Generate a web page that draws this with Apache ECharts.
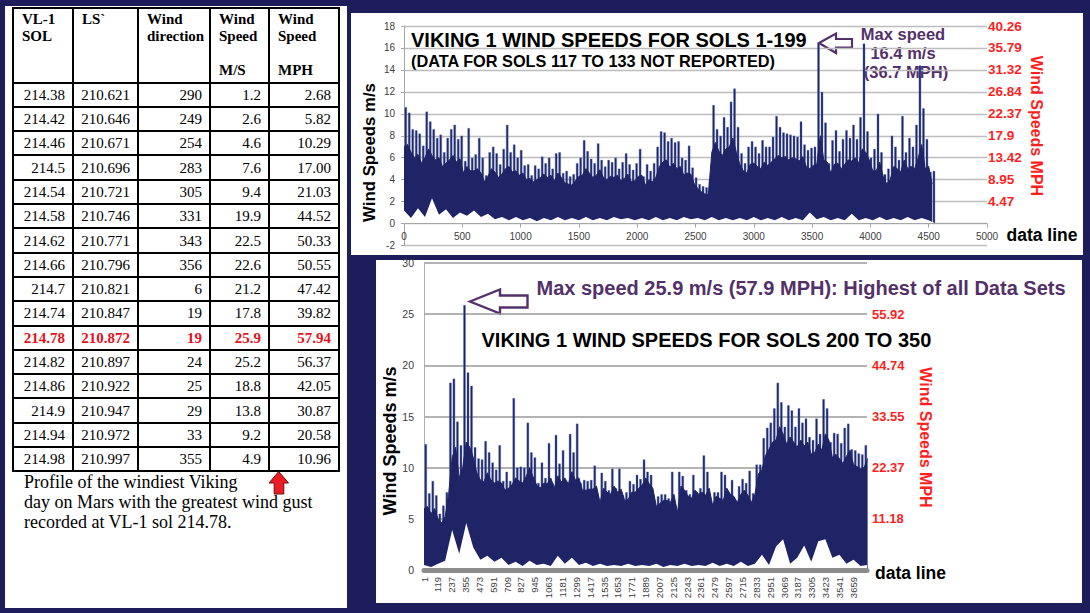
<!DOCTYPE html>
<html>
<head>
<meta charset="utf-8">
<script src="https://cdn.jsdelivr.net/npm/echarts@6/dist/echarts.min.js"></script>
<style>
  body { margin:0; width:1090px; height:613px; overflow:hidden; position:relative; background:#1c1d5a; }
  .panel { position:absolute; background:#fff; }
  #windTable { position:absolute; left:12px; top:7px; width:328px; border-collapse:collapse; table-layout:fixed;
               font-family:"Liberation Serif","Times New Roman",serif; font-size:15px; color:#000; }
  #windTable td { border:2.5px solid #000; padding:0 7px 0 0; height:22.3px; text-align:right; line-height:18px; }
  #windTable tr.head td { height:70.6px; vertical-align:top; text-align:left; font-weight:bold; padding:2px 0 0 8px; line-height:17px; }
  #windTable tr.max td { color:#e8101a; font-weight:bold; }
  #caption { position:absolute; left:24px; top:472px; font-family:"Liberation Serif","Times New Roman",serif;
             font-size:18px; line-height:20px; color:#000; }
  #chart { position:absolute; left:0; top:0; width:1090px; height:613px; }
</style>
</head>
<body>
<div class="panel" style="left:5px;top:6px;width:342px;height:602px"></div>
<div class="panel" style="left:351px;top:13px;width:732px;height:242px"></div>
<div class="panel" style="left:376px;top:260px;width:706px;height:343px"></div>
<table id="windTable"></table>
<div id="caption">Profile of the windiest Viking<br>day on Mars with the greatest wind gust<br>recorded at VL-1 sol 214.78.</div>
<div id="chart"></div>
<script>
// table: windiest day at VL-1
var tableSol = ['214.38','214.42','214.46','214.5','214.54','214.58','214.62','214.66','214.7','214.74','214.78','214.82','214.86','214.9','214.94','214.98'];
var tableLs  = ['210.621','210.646','210.671','210.696','210.721','210.746','210.771','210.796','210.821','210.847','210.872','210.897','210.922','210.947','210.972','210.997'];
var tableDir = ['290','249','254','283','305','331','343','356','6','19','19','24','25','29','33','355'];
var tableMs  = ['1.2','2.6','4.6','7.6','9.4','19.9','22.5','22.6','21.2','17.8','25.9','25.2','18.8','13.8','9.2','4.9'];
var tableMph = ['2.68','5.82','10.29','17.00','21.03','44.52','50.33','50.55','47.42','39.82','57.94','56.37','42.05','30.87','20.58','10.96'];
var maxRow = 10;

// sols 1-199: body level (every 30 data lines) and gust spikes in between
var topValley = [
  7.0, 7.2, 6.5, 6.0, 6.3, 5.5, 6.0, 6.8, 6.2, 5.8,
  6.0, 5.2, 5.5, 5.8, 6.2, 5.6, 5.9, 4.6, 5.2, 4.8,
  4.8, 5.0, 4.6, 3.8, 4.3, 5.0, 4.7, 4.2, 4.5, 5.0,
  5.2, 4.7, 4.8, 4.4, 4.6, 4.0, 4.1, 3.8, 4.0, 4.2,
  4.5, 4.2, 4.4, 3.9, 4.6, 4.2, 3.7, 3.6, 3.5, 3.9,
  4.3, 4.4, 5.0, 4.6, 4.2, 4.4, 4.9, 4.2, 4.0, 4.3,
  4.2, 4.4, 3.9, 4.1, 4.5, 3.8, 3.9, 4.3, 4.4, 3.5,
  4.0, 3.8, 4.2, 5.2, 5.6, 5.8, 5.1, 5.5, 5.0, 5.2,
  4.4, 4.6, 4.5, 3.6, 3.2, 2.9, 2.7, 2.6, 6.5, 7.4,
  6.6, 6.2, 6.8, 7.0, 7.8, 6.5, 5.4, 4.8, 4.6, 5.4,
  5.5, 5.2, 5.0, 5.6, 5.3, 5.6, 5.9, 6.2, 6.0, 6.1,
  5.8, 6.0, 5.9, 5.7, 6.1, 5.2, 5.0, 5.3, 5.4, 8.0,
  5.8, 5.6, 4.6, 5.4, 5.5, 5.0, 5.4, 5.8, 5.7, 6.0,
  5.5, 6.8, 6.5, 5.8, 4.8, 4.8, 5.6, 4.3, 3.6, 4.0,
  5.2, 5.0, 4.7, 5.8, 5.0, 5.2, 5.0, 6.0, 7.2, 5.0,
  5.2, 3.6
];
var topPeak = [
  10.6, 10.1, 8.6, 8.5, 8.2, 7.1, 10.2, 9.3, 8.6, 7.8,
  8.1, 6.5, 7.8, 8.6, 9.0, 7.7, 8.0, 5.7, 8.7, 6.0,
  6.3, 7.8, 6.0, 4.4, 6.5, 7.0, 6.4, 5.4, 6.8, 9.0,
  6.5, 7.2, 6.0, 6.7, 5.3, 5.4, 4.4, 5.3, 5.0, 6.1,
  5.5, 6.0, 5.0, 6.4, 6.5, 4.6, 4.8, 4.3, 4.5, 5.5,
  6.0, 7.6, 6.6, 5.9, 5.5, 7.3, 5.8, 5.2, 5.8, 5.6,
  6.0, 5.0, 5.6, 6.4, 5.4, 4.9, 5.5, 6.8, 4.3, 5.4,
  4.8, 5.5, 7.0, 8.4, 8.3, 7.5, 7.8, 7.4, 7.5, 6.0,
  5.8, 7.1, 5.1, 4.2, 3.6, 3.4, 3.3, 4.0, 10.8, 8.6,
  8.0, 9.7, 8.8, 11.1, 12.3, 8.8, 6.4, 5.5, 7.0, 7.5,
  7.0, 6.4, 7.6, 7.0, 7.0, 7.9, 9.8, 8.8, 8.3, 8.2,
  8.1, 8.0, 7.9, 9.3, 7.2, 6.7, 6.9, 7.0, 16.4, 12.0,
  9.2, 5.5, 7.6, 8.5, 6.6, 7.7, 8.5, 7.8, 9.0, 7.7,
  9.7, 16.4, 8.4, 6.0, 6.8, 10.0, 6.5, 4.5, 5.0, 8.0,
  7.0, 5.8, 9.8, 6.5, 7.8, 7.0, 9.0, 14.4, 10.5, 7.7,
  4.7, 4.8
];
// lowest readings, every 60 data lines
var topFloor = [
  1.2, 0.5, 1.4, 0.6, 2.3, 0.8, 1.3, 0.5, 1.0, 0.7, 1.2, 0.6,
  0.9, 0.4, 0.6, 0.3, 0.6, 0.3, 0.5, 0.2, 0.5, 0.3, 0.6, 0.3,
  0.5, 0.3, 0.6, 0.3, 0.5, 0.3, 0.6, 0.4, 0.5, 0.3, 0.5, 0.3,
  0.6, 0.3, 0.5, 0.3, 0.6, 0.4, 0.5, 0.3, 0.6, 0.3, 0.5, 0.3,
  0.5, 0.3, 0.6, 0.3, 0.5, 0.3, 0.6, 0.3, 0.5, 0.3, 1.0, 0.4,
  0.6, 0.3, 0.5, 0.3, 0.9, 0.3, 0.5, 0.3, 0.6, 0.3, 0.5, 0.3, 0.6, 0.3, 0.5, 0.3,
  0
];
var topMs = [2, 4, 6, 8, 10, 12, 14, 16, 18];
var topMph = ['4.47','8.95','13.42','17.9','22.37','26.84','31.32','35.79','40.26'];

// sols 200-350
var bottomValley = [
  6.0, 6.2, 5.5, 6.0, 5.0, 4.6, 5.2, 7.4, 11.0, 12.0,
  9.0, 10.0, 12.5, 12.0, 11.0, 9.5, 8.8, 8.6, 9.5, 8.8,
  8.5, 8.7, 8.5, 7.8, 8.0, 8.3, 9.0, 8.7, 8.5, 9.1,
  10.0, 9.1, 8.3, 8.0, 8.5, 8.4, 9.0, 8.0, 9.2, 8.6,
  9.0, 8.4, 9.6, 8.8, 9.0, 7.8, 7.8, 7.9, 7.9, 8.2,
  6.6, 8.0, 7.6, 7.4, 8.2, 7.6, 7.9, 6.8, 6.9, 7.6,
  7.6, 8.0, 8.3, 9.0, 8.4, 8.0, 6.2, 6.5, 6.8, 6.8,
  6.6, 7.4, 5.6, 8.2, 7.8, 7.2, 7.0, 7.8, 7.4, 7.6,
  7.3, 8.0, 6.3, 7.2, 7.0, 6.8, 8.0, 7.4, 7.2, 6.6,
  7.4, 7.8, 7.3, 6.6, 7.4, 9.4, 9.8, 11.2, 11.8, 12.5,
  12.7, 14.0, 13.3, 12.3, 13.0, 12.5, 12.0, 12.7, 12.1, 12.5,
  11.3, 11.5, 12.3, 11.7, 13.3, 12.7, 11.0, 11.3, 10.9, 10.4,
  11.1, 11.7, 10.3, 10.1, 9.9, 10.0, 10.9
];
var bottomPeak = [
  12.3, 7.5, 8.7, 7.3, 5.5, 6.3, 7.6, 18.3, 18.7, 14.5,
  12.2, 25.9, 19.3, 18.0, 12.0, 10.9, 10.8, 12.6, 11.5, 10.5,
  9.8, 12.2, 8.7, 9.6, 8.7, 16.8, 10.0, 10.1, 10.0, 14.4,
  11.5, 11.0, 8.5, 10.5, 9.0, 12.4, 8.5, 13.2, 10.4, 11.7,
  8.0, 13.3, 11.5, 14.3, 8.5, 8.8, 8.7, 8.8, 10.2, 6.5,
  9.5, 8.7, 7.8, 9.9, 8.0, 9.9, 7.3, 7.6, 8.7, 8.4,
  9.3, 8.9, 10.8, 9.6, 9.3, 6.5, 7.2, 7.4, 7.4, 7.0,
  9.6, 5.2, 9.6, 9.2, 7.8, 7.4, 9.3, 7.6, 8.0, 11.2,
  9.6, 6.3, 7.6, 7.6, 9.6, 9.3, 7.6, 8.8, 6.6, 8.2,
  8.9, 8.5, 9.7, 7.5, 10.3, 10.3, 12.9, 13.9, 14.4, 15.8,
  18.3, 16.4, 14.0, 16.1, 15.6, 14.0, 15.8, 14.4, 14.8, 13.0,
  12.7, 14.8, 13.3, 16.7, 15.8, 12.5, 13.4, 13.3, 12.4, 13.9,
  14.3, 11.8, 11.7, 11.4, 11.3, 12.2
];
var bottomFloor = [
  0.5, 0.3, 0.6, 0.9, 3.9, 1.6, 4.6, 2.2, 1.0, 1.4, 0.8, 1.2,
  0.5, 0.8, 0.4, 0.9, 0.5, 0.6, 0.4, 1.4, 0.6, 1.2, 0.5, 0.7,
  0.4, 0.6, 0.4, 0.5, 0.4, 0.6, 0.4, 0.5, 0.4, 0.6, 0.3, 0.5,
  0.4, 0.6, 0.4, 0.5, 0.4, 0.7, 0.4, 0.6, 0.4, 0.8, 0.4, 0.6,
  1.5, 0.5, 2.3, 3.0, 0.6, 1.2, 2.4, 0.8, 2.8, 3.0, 1.2, 1.5,
  0.6, 1.0, 0.4, 0.5
];
var bottomMs = [5, 10, 15, 20, 25];
var bottomMph = ['11.18','22.37','33.55','44.74','55.92'];

var lineStep = 15, floorStep = 60, labelEvery = 118;

// table
var rows = '<colgroup><col style="width:60px"><col style="width:65px"><col style="width:72px"><col style="width:59px"><col style="width:70px"></colgroup>';
rows += '<tr class="head"><td>VL-1<br>SOL</td><td>LS`</td><td>Wind<br>direction</td><td>Wind<br>Speed<br><br>M/S</td><td>Wind<br>Speed<br><br>MPH</td></tr>';
for (var r = 0; r < tableSol.length; r++) {
  rows += '<tr' + (r === maxRow ? ' class="max"' : '') + '><td>' + tableSol[r] + '</td><td>' + tableLs[r] + '</td><td>' +
          tableDir[r] + '</td><td>' + tableMs[r] + '</td><td>' + tableMph[r] + '</td></tr>';
}
document.getElementById('windTable').innerHTML = rows;

function bodyData(valleys) {
  return valleys.map(function (v, k) { return [2 * k * lineStep, v]; });
}
function spikeData(peaks) {
  return peaks.map(function (v, k) { return [(2 * k + 1) * lineStep, v]; });
}
function floorData(vals) {
  return vals.map(function (v, j) { return [j * floorStep, v]; });
}
function lookup(keys, labels) {
  return function (v) { var i = keys.indexOf(v); return i < 0 ? '' : labels[i]; };
}

var sans = '"Liberation Sans", Arial, sans-serif';
var purple = '#54306a';
var navy = '#1f2466';
var streak = '#5d78bd';

var dom = document.getElementById('chart');
var myChart = echarts.init(dom, null, { renderer: 'svg' });

function windSeries(xi, yi, valleys, peaks, floor) {
  return [
    {
      type: 'bar', xAxisIndex: xi, yAxisIndex: yi, z: 2, barWidth: 2.4,
      data: spikeData(peaks),
      itemStyle: { color: navy, borderColor: streak, borderWidth: 0.4 }
    },
    {
      type: 'line', xAxisIndex: xi, yAxisIndex: yi, z: 3,
      data: bodyData(valleys), showSymbol: false,
      lineStyle: { color: navy, width: 1 },
      areaStyle: { color: navy, opacity: 1 }
    },
    {
      type: 'line', xAxisIndex: xi, yAxisIndex: yi, z: 4,
      data: floorData(floor), showSymbol: false,
      lineStyle: { width: 0 }, areaStyle: { color: '#fff', opacity: 1 }
    }
  ];
}

var option = {
  animation: false,
  textStyle: { fontFamily: sans },
  grid: [
    { left: 404, top: 26, width: 583, height: 219.5 },
    { left: 424, top: 263, width: 443, height: 307 }
  ],
  xAxis: [
    {
      gridIndex: 0, type: 'value', min: 0, max: 5000, interval: 500, z: 5, offset: -22,
      axisLine: { onZero: false, lineStyle: { color: '#a6a6a6' } },
      axisTick: { show: true, length: 4, lineStyle: { color: '#a6a6a6' } },
      axisLabel: { fontSize: 10, color: '#404040', margin: 8, formatter: function (v) { return String(v); } },
      splitLine: { show: false }
    },
    {
      gridIndex: 1, type: 'value', min: 0, max: 3775, interval: labelEvery, z: 5,
      axisLine: { onZero: false, lineStyle: { color: '#8c8c8c', width: 5 } },
      axisTick: { show: false },
      axisLabel: {
        rotate: 90, fontSize: 9.5, color: '#404040', margin: 7,
        formatter: function (v) { return v % labelEvery === 0 ? String(v + 1) : ''; }
      },
      splitLine: { show: false }
    }
  ],
  yAxis: [
    {
      gridIndex: 0, type: 'value', min: -2, max: 18, interval: 2,
      axisLine: { show: true, lineStyle: { color: '#a6a6a6' } },
      axisTick: { show: true, length: 3, lineStyle: { color: '#a6a6a6' } },
      axisLabel: { fontSize: 10, color: '#404040', margin: 9 },
      splitLine: { lineStyle: { color: '#bdbdbd', width: 1.3 } }
    },
    {
      gridIndex: 0, type: 'value', position: 'right', min: -2, max: 18, interval: 2,
      axisLine: { show: false }, axisTick: { show: false }, splitLine: { show: false },
      axisLabel: { formatter: lookup(topMs, topMph), color: '#ff1f1f', fontWeight: 'bold', fontSize: 13.5, margin: 1 }
    },
    {
      gridIndex: 1, type: 'value', min: 0, max: 30, interval: 5,
      axisLine: { show: true, lineStyle: { color: '#b0b0b0' } },
      axisTick: { show: false },
      axisLabel: { fontSize: 10.5, color: '#404040', margin: 10 },
      splitLine: { lineStyle: { color: '#9a9a9a', width: 1.6 } }
    },
    {
      gridIndex: 1, type: 'value', position: 'right', min: 0, max: 30, interval: 5,
      axisLine: { show: false }, axisTick: { show: false }, splitLine: { show: false },
      axisLabel: { formatter: lookup(bottomMs, bottomMph), color: '#ff1f1f', fontWeight: 'bold', fontSize: 13, margin: 5 }
    }
  ],
  series: windSeries(0, 0, topValley, topPeak, topFloor).concat(windSeries(1, 2, bottomValley, bottomPeak, bottomFloor)),
  graphic: [
    // top chart texts
    { type: 'text', x: 411, y: 39.5, style: { text: 'VIKING 1 WIND SPEEDS FOR SOLS 1-199', font: 'bold 20px ' + sans, fill: '#000', align: 'left', verticalAlign: 'middle' } },
    { type: 'text', x: 411, y: 61, style: { text: '(DATA FOR SOLS 117 TO 133 NOT REPORTED)', font: 'bold 16.3px ' + sans, fill: '#000', align: 'left', verticalAlign: 'middle' } },
    { type: 'text', x: 903, y: 33.5, style: { text: 'Max speed', font: 'bold 16.5px ' + sans, fill: purple, align: 'center', verticalAlign: 'middle' } },
    { type: 'text', x: 903, y: 52.5, style: { text: '16.4 m/s', font: 'bold 16.5px ' + sans, fill: purple, align: 'center', verticalAlign: 'middle' } },
    { type: 'text', x: 906, y: 71.5, style: { text: '(36.7 MPH)', font: 'bold 16.5px ' + sans, fill: purple, align: 'center', verticalAlign: 'middle' } },
    { type: 'polygon', shape: { points: [[819, 43], [836, 33.5], [836, 39], [852, 39], [852, 47.5], [836, 47.5], [836, 53]] }, style: { fill: '#fff', stroke: purple, lineWidth: 2.2 } },
    { type: 'text', x: 369, y: 152.5, rotation: Math.PI / 2, style: { text: 'Wind Speeds m/s', font: 'bold 16.8px ' + sans, fill: '#000', align: 'center', verticalAlign: 'middle' } },
    { type: 'text', x: 1036.5, y: 126, rotation: -Math.PI / 2, style: { text: 'Wind Speeds MPH', font: 'bold 16px ' + sans, fill: '#ff1f1f', align: 'center', verticalAlign: 'middle' } },
    { type: 'text', x: 1006.5, y: 235, style: { text: 'data line', font: 'bold 17.5px ' + sans, fill: '#000', align: 'left', verticalAlign: 'middle' } },
    // bottom chart texts
    { type: 'text', x: 536.5, y: 288, style: { text: 'Max speed 25.9 m/s (57.9 MPH): Highest of all Data Sets', font: 'bold 20px ' + sans, fill: purple, align: 'left', verticalAlign: 'middle' } },
    { type: 'polygon', shape: { points: [[470, 301.5], [500, 289.5], [500, 295.5], [527.5, 295.5], [527.5, 307.5], [500, 307.5], [500, 313.5]] }, style: { fill: '#fff', stroke: purple, lineWidth: 2.4 } },
    { type: 'text', x: 481.5, y: 340, style: { text: 'VIKING 1 WIND SPEEDS FOR SOLS 200 TO 350', font: 'bold 20px ' + sans, fill: '#000', align: 'left', verticalAlign: 'middle' } },
    { type: 'text', x: 390, y: 441, rotation: Math.PI / 2, style: { text: 'Wind Speeds m/s', font: 'bold 18px ' + sans, fill: '#000', align: 'center', verticalAlign: 'middle' } },
    { type: 'text', x: 925, y: 437.5, rotation: -Math.PI / 2, style: { text: 'Wind Speeds MPH', font: 'bold 16px ' + sans, fill: '#ff1f1f', align: 'center', verticalAlign: 'middle' } },
    { type: 'text', x: 875, y: 572.5, style: { text: 'data line', font: 'bold 17.5px ' + sans, fill: '#000', align: 'left', verticalAlign: 'middle' } },
    // red arrow under the table
    { type: 'polygon', shape: { points: [[278.7, 471.5], [288.5, 483], [283.8, 483], [283.8, 494], [274.2, 494], [274.2, 483], [269, 483]] }, style: { fill: '#ec1c24', stroke: '#6a1010', lineWidth: 1 } }
  ]
};

if (option && typeof option === 'object') {
  myChart.setOption(option);
}
window.addEventListener('resize', myChart.resize);
</script>
</body>
</html>
